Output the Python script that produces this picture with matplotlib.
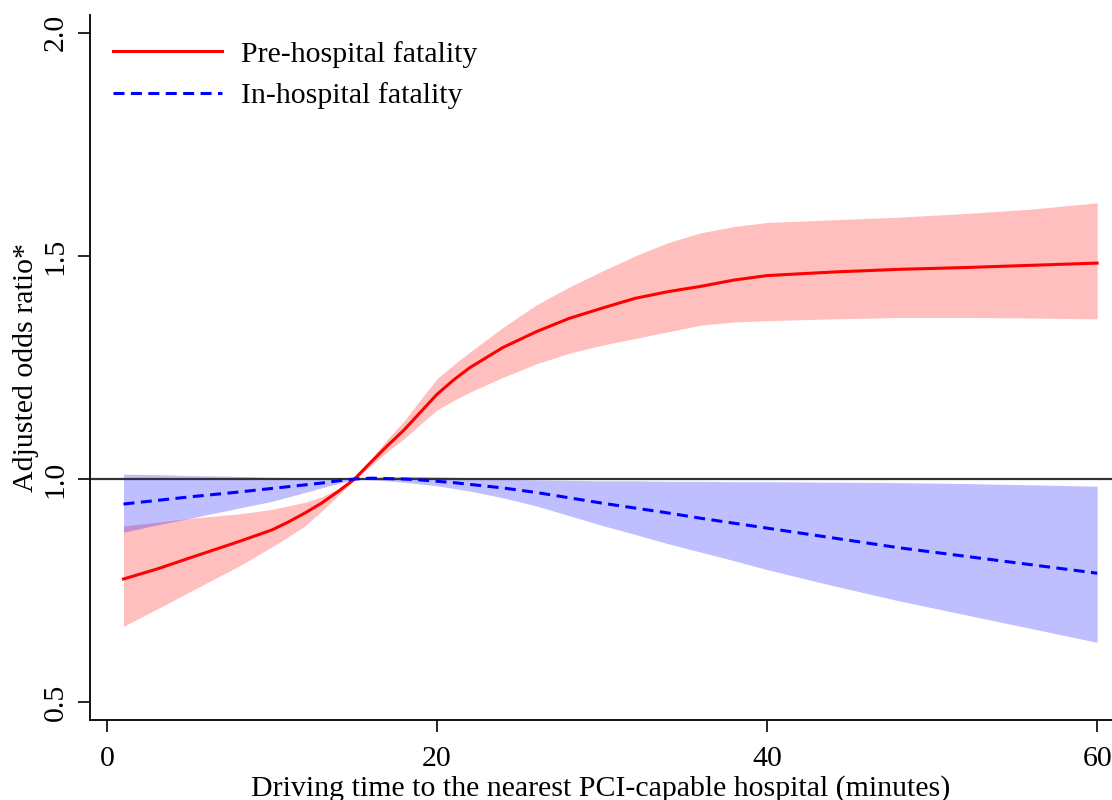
import matplotlib
matplotlib.use("Agg")
import matplotlib.pyplot as plt

minutes = [1, 3, 5, 8, 10, 11, 12, 13, 14, 15, 16, 17, 18, 19, 20, 21, 22, 24,
           26, 28, 30, 32, 34, 36, 38, 40, 44, 48, 52, 56, 60]

pre_or = [0.776, 0.798, 0.823, 0.860, 0.886, 0.904, 0.924, 0.946, 0.972, 1.000,
          1.038, 1.075, 1.110, 1.150, 1.190, 1.222, 1.250, 1.295, 1.330, 1.360,
          1.383, 1.405, 1.420, 1.432, 1.446, 1.456, 1.464, 1.470, 1.474, 1.479,
          1.484]
pre_hi = [0.895, 0.903, 0.912, 0.922, 0.932, 0.940, 0.948, 0.960, 0.978, 1.002,
          1.045, 1.090, 1.130, 1.178, 1.225, 1.256, 1.285, 1.340, 1.390, 1.430,
          1.466, 1.500, 1.530, 1.552, 1.566, 1.575, 1.581, 1.587, 1.595, 1.605,
          1.619]
pre_lo = [0.670, 0.708, 0.747, 0.805, 0.848, 0.871, 0.895, 0.928, 0.963, 0.998,
          1.030, 1.062, 1.090, 1.123, 1.155, 1.176, 1.195, 1.228, 1.258, 1.282,
          1.300, 1.315, 1.330, 1.345, 1.352, 1.355, 1.359, 1.362, 1.362, 1.361,
          1.359]

in_or = [0.944, 0.952, 0.960, 0.971, 0.979, 0.983, 0.987, 0.991, 0.996, 1.000,
         1.002, 1.001, 1.000, 0.998, 0.995, 0.992, 0.988, 0.980, 0.970, 0.958,
         0.946, 0.935, 0.924, 0.912, 0.901, 0.890, 0.868, 0.846, 0.827, 0.808,
         0.789]
in_hi = [1.011, 1.010, 1.008, 1.006, 1.004, 1.0035, 1.003, 1.002, 1.001, 1.001,
         1.004, 1.005, 1.006, 1.006, 1.005, 1.004, 1.003, 1.000, 0.998, 0.997,
         0.996, 0.996, 0.995, 0.995, 0.994, 0.994, 0.993, 0.992, 0.990, 0.987,
         0.984]
in_lo = [0.881, 0.897, 0.912, 0.935, 0.950, 0.960, 0.970, 0.980, 0.990, 0.999,
         0.998, 0.996, 0.993, 0.989, 0.985, 0.979, 0.973, 0.958, 0.940, 0.918,
         0.896, 0.876, 0.855, 0.836, 0.817, 0.797, 0.761, 0.727, 0.696, 0.665,
         0.634]

xticks = [0, 20, 40, 60]
yticks = [0.5, 1.0, 1.5, 2.0]
ytick_labels = ["0.5", "1.0", "1.5", "2.0"]

plt.rcParams['font.family'] = ['Liberation Serif', 'DejaVu Serif']
FS = 21.5

fig = plt.figure(figsize=(11.12, 8.0), dpi=100)
ax = fig.add_axes([90/1112, 80/800, 1 - 90/1112, (720-15)/800])

ax.fill_between(minutes, pre_lo, pre_hi, color='red', alpha=0.25, linewidth=0)
ax.fill_between(minutes, in_lo, in_hi, color='blue', alpha=0.25, linewidth=0)
ax.axhline(1.0, color='#333333', linewidth=1.6, zorder=1)
ax.plot(minutes, pre_or, color='red', linewidth=2.2, label='Pre-hospital fatality')
ax.plot(minutes, in_or, color='blue', linewidth=2.2, linestyle=(0, (3.6, 2.1)),
        label='In-hospital fatality')

ax.set_xlim(-1.03, 60.9)
ax.set_ylim(0.46, 2.04)
ax.set_xticks(xticks)
ax.set_yticks(yticks)
ax.set_yticklabels(ytick_labels, rotation=90, va='center')
ax.tick_params(axis='both', direction='out', length=8.5, width=1.2,
               labelsize=FS, colors='black')
ax.tick_params(axis='x', pad=10)
ax.tick_params(axis='y', pad=7)

for s in ['top', 'right']:
    ax.spines[s].set_visible(False)
for s in ['left', 'bottom']:
    ax.spines[s].set_linewidth(1.3)

ax.set_xlabel('Driving time to the nearest PCI-capable hospital (minutes)',
              fontsize=FS)
ax.xaxis.set_label_coords(0.5, -0.078)
ax.set_ylabel('Adjusted odds ratio*', fontsize=FS)
ax.yaxis.set_label_coords(-0.05, 0.5)

leg = ax.legend(loc='upper left', frameon=False, fontsize=FS,
                handlelength=3.65, handletextpad=0.63, labelspacing=0.48,
                bbox_to_anchor=(0.0225, 0.9635), borderaxespad=0.0, borderpad=0.0)

fig.savefig('out.png', dpi=100)
